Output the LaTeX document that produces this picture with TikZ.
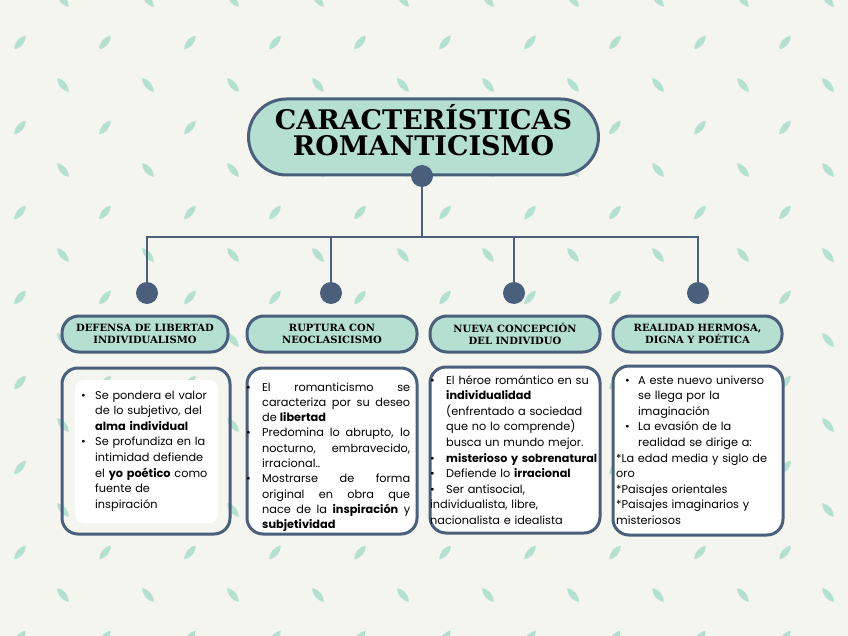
\documentclass[tikz,border=0pt]{standalone}
\usepackage{fontspec}
\setmainfont{Poppins}
\newfontfamily\titlefont{DejaVu Serif}
\usetikzlibrary{positioning}
\definecolor{bgc}{HTML}{F5F5F0}
\definecolor{leafc}{HTML}{B4E0D0}
\definecolor{mint}{HTML}{B5DFD1}
\definecolor{navy}{HTML}{4A5F7C}
\newcommand{\itm}[2]{\leftskip=#1\relax\hangindent=#2\relax\hangafter=1\noindent\hbox to #2{\textbullet\hfil}}
\newcommand{\plainline}{\leftskip=0pt\hangindent=0pt\noindent}
\tikzset{%
	titlebox/.style = {draw=navy, fill=mint, line width=3pt, rounded corners=38pt, minimum width=350pt, minimum height=76pt, inner sep=0pt, align=center, font=\titlefont\bfseries\fontsize{27}{25.5}\selectfont},
	headbox/.style  = {draw=navy, fill=mint, line width=3pt, rounded corners=17pt, minimum width=166pt, minimum height=36pt, inner sep=0pt, align=center, font=\titlefont\bfseries\fontsize{10}{11.5}\selectfont},
	textbox/.style  = {draw=navy, fill=white, line width=3pt, rounded corners=16pt, minimum width=168pt, minimum height=166pt, inner sep=0pt},
	panel/.style    = {fill=white, rounded corners=9pt, minimum width=143pt, minimum height=143pt, inner sep=0pt},
	dot/.style      = {circle, fill=navy, minimum size=22pt, inner sep=0pt},
	connector/.style= {draw=navy, line width=2.5pt},
	bodytext/.style = {anchor=base west, inner sep=0pt, font=\fontsize{11.3}{15.6}\selectfont},
	leaf/.style     = {fill=leafc},
}
\begin{document}
\begin{tikzpicture}[x=1pt,y=-1pt]
	\useasboundingbox (0,0) rectangle (848,636);
	\fill[bgc] (0,0) rectangle (848,636);
	% background leaves
	\begin{scope}
		\clip (0,0) rectangle (848,636);
		\foreach \r in {0,...,7}{
			\foreach \c in {0,...,9}{
				\fill[leaf, shift={({63+85*\c},{85*\r})}, rotate=-50] (-9,0) .. controls (-3,4.5) and (3,4.5) .. (9,0) .. controls (3,-4.5) and (-3,-4.5) .. cycle;
				\fill[leaf, shift={({20+85*\c},{42.5+85*\r})}, rotate=50] (-9,0) .. controls (-3,4.5) and (3,4.5) .. (9,0) .. controls (3,-4.5) and (-3,-4.5) .. cycle;
			}
		}
	\end{scope}
	% title and tree
	\node[titlebox] (title) at (423.5,137) {CARACTERÍSTICAS\\ROMANTICISMO\rule[-14pt]{0pt}{0pt}};
	\node[dot] (tdot) at (422,176) {};
	\node[dot] (d1) at (147,293) {};
	\node[dot] (d2) at (331,293) {};
	\node[dot] (d3) at (514,293) {};
	\node[dot] (d4) at (698,293) {};
	\coordinate (jn) at (422,237);
	\draw[connector] (tdot) -- (jn);
	\draw[connector] (d1) |- (jn) -| (d4);
	\draw[connector] (d2) -- (d2 |- jn);
	\draw[connector] (d3) -- (d3 |- jn);
	% headers
	\node[headbox] (h1) at (145,334) {DEFENSA DE LIBERTAD\\INDIVIDUALISMO};
	\node[headbox, minimum width=170pt] (h2) at (332,334) {RUPTURA CON\\NEOCLASICISMO};
	\node[headbox, minimum width=170pt] (h3) at (515,334) {NUEVA CONCEPCIÓN\\DEL INDIVIDUO};
	\node[headbox, minimum width=169pt] (h4) at (697.5,334) {REALIDAD HERMOSA,\\DIGNA Y POÉTICA};
	% text boxes
	\node[textbox, fill=none] (b1) at (146,451) {};
	\node[panel] (p1) at (146.5,451.5) {};
	\node[textbox, minimum width=170pt] (b2) at (332,451) {};
	\node[textbox, minimum width=170pt] (b3) at (515,450) {};
	\node[textbox, minimum width=170pt, minimum height=169pt] (b4) at (698,450.5) {};
	\node[bodytext, text width=140pt, align=left] (t1) at (81,399) {%
		\itm{0pt}{14pt}Se pondera el valor\newline de lo subjetivo, del\newline \textbf{alma individual}\par
		\itm{0pt}{14pt}Se profundiza en la\newline intimidad defiende\newline el \textbf{yo poético} como\newline fuente de\newline inspiración\par};
	\node[bodytext, text width=164pt, align=justify, font=\fontsize{11.3}{15.3}\selectfont] (t2) at (246,391) {%
		\itm{0pt}{16pt}El romanticismo se\linebreak caracteriza por su deseo\linebreak de \textbf{libertad}\par
		\itm{0pt}{16pt}Predomina lo abrupto, lo\linebreak nocturno, embravecido,\linebreak irracional..\par
		\itm{0pt}{16pt}Mostrarse de forma\linebreak original en obra que\linebreak nace de la \textbf{inspiración} y\linebreak \textbf{subjetividad}\par};
	\node[bodytext, text width=168pt, align=left] (t3) at (430,384) {%
		\itm{0pt}{16pt}El héroe romántico en su\newline \textbf{individualidad}\newline (enfrentado a sociedad\newline que no lo comprende)\newline busca un mundo mejor.\par
		\itm{0pt}{16pt}\resizebox{151pt}{!}{\textbf{misterioso y sobrenatural}}\par
		\itm{0pt}{16pt}Defiende lo \textbf{irracional}\par
		\itm{0pt}{16pt}\hangindent=0pt Ser antisocial,\newline individualista, libre,\newline nacionalista e idealista\par};
	\node[bodytext, text width=166pt, align=left] (t4) at (616,384) {%
		\itm{9pt}{13pt}A este nuevo universo\newline se llega por la\newline imaginación\par
		\itm{9pt}{13pt}La evasión de la\newline realidad se dirige a:\par
		\plainline *La edad media y siglo de\newline oro\par
		\plainline *Paisajes orientales\par
		\plainline *Paisajes imaginarios y\newline misteriosos\par};
\end{tikzpicture}
\end{document}
